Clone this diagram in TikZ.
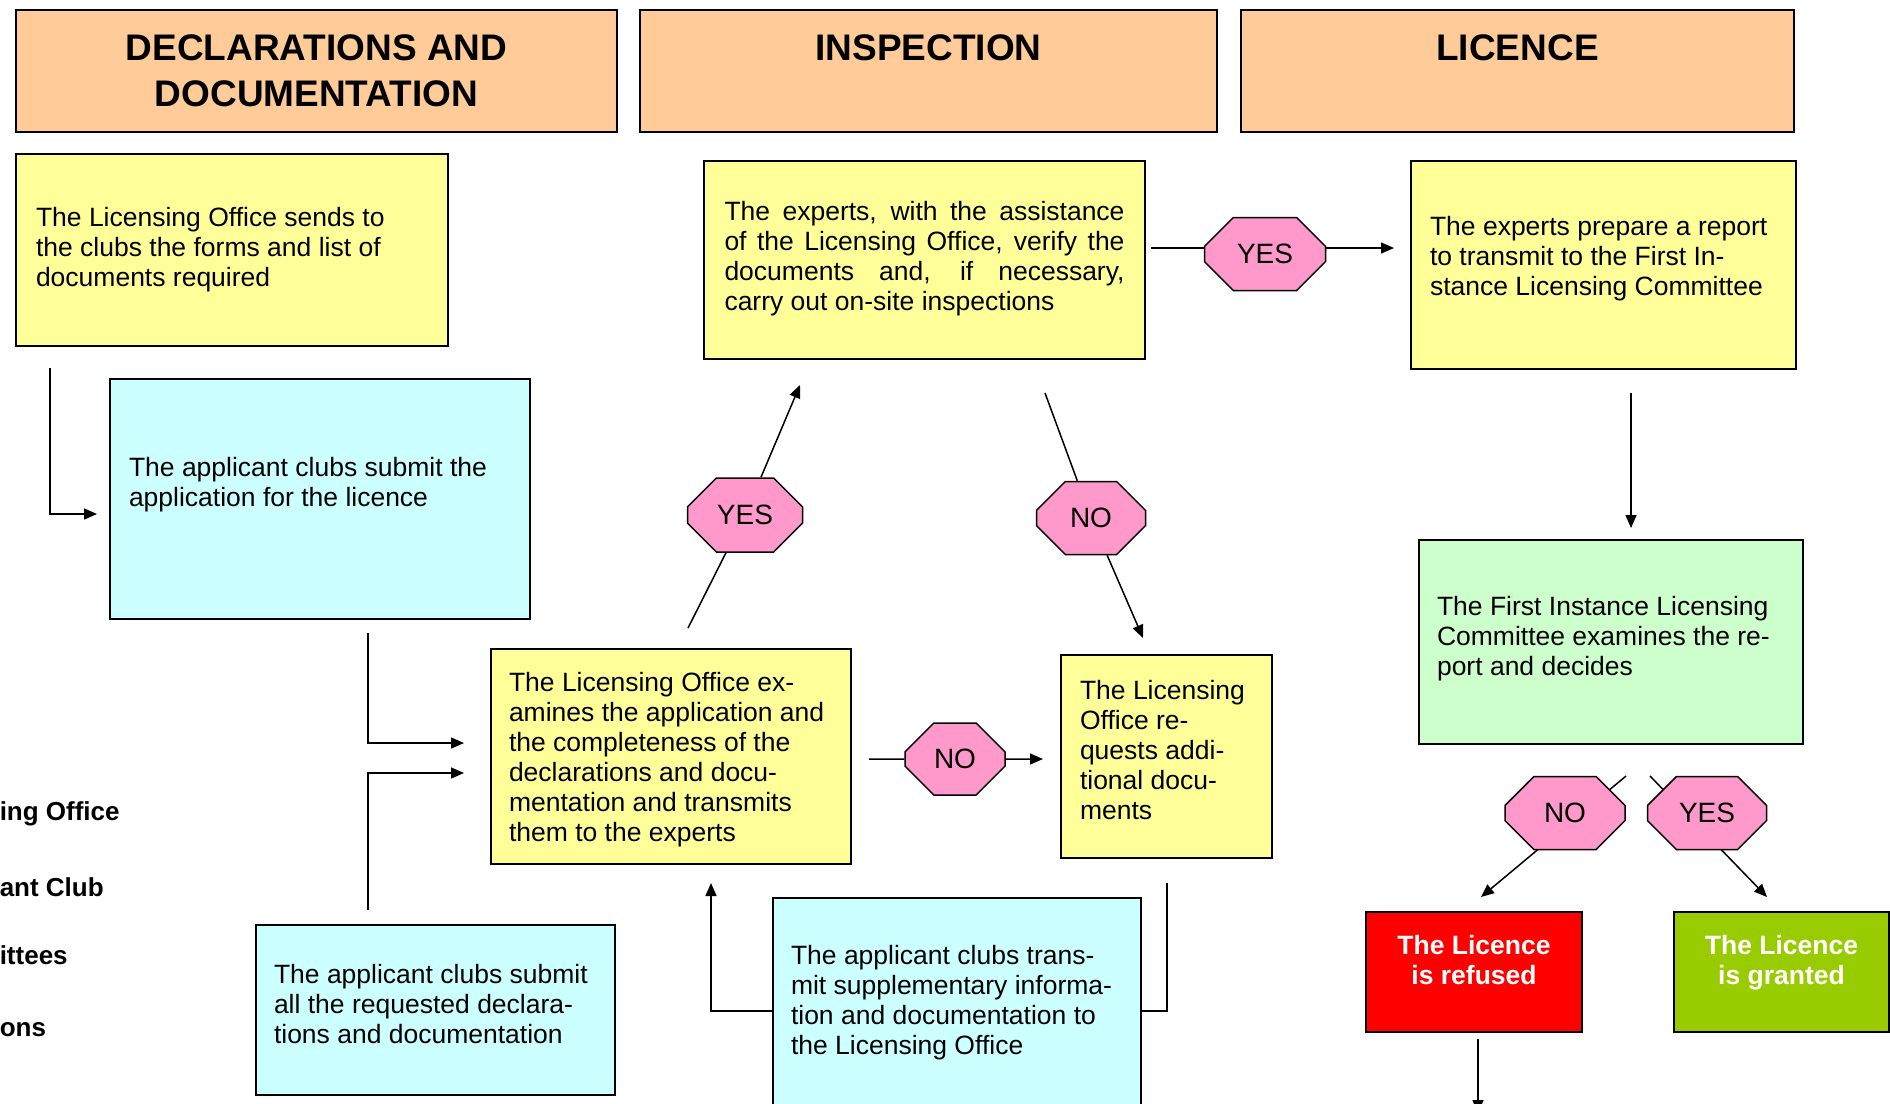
\documentclass[tikz,border=0pt]{standalone}
\usepackage{fontspec}
\setmainfont{Liberation Sans}
\usetikzlibrary{arrows.meta,positioning,shapes.misc}
\definecolor{hdrfill}{HTML}{FFCC99}
\definecolor{docfill}{HTML}{FFFF99}
\definecolor{clubfill}{HTML}{CCFFFF}
\definecolor{cttfill}{HTML}{CCFFCC}
\definecolor{octfill}{HTML}{FF99CC}
\definecolor{nofill}{HTML}{FF0000}
\definecolor{yesfill}{HTML}{99CC00}
\newcommand{\bodyfont}{\fontsize{26.5}{30}\selectfont}
\newcommand{\hdrfont}{\fontsize{37}{46}\selectfont\bfseries}
\newcommand{\octfont}{\fontsize{28}{30}\selectfont}
\newcommand{\tagfont}{\fontsize{26}{30}\selectfont\bfseries}
\newcommand{\wordgap}{\spaceskip=.278em plus .139em minus .093em\relax}

\begin{document}
\begin{tikzpicture}[x=1pt,y=-1pt,>={Triangle[length=13pt,width=11pt]},line width=1.5pt,
  hdr/.style={draw,fill=hdrfill,line width=2pt,anchor=north west,minimum height=122pt,align=center,font=\hdrfont,execute at begin node=\wordgap},
  box/.style={draw,line width=2pt,anchor=north west,inner ysep=0pt,font=\bodyfont,execute at begin node=\wordgap},
  oct/.style={chamfered rectangle,chamfered rectangle xsep=19pt,chamfered rectangle ysep=19pt,draw,fill=octfill,inner sep=0pt,font=\octfont},
  tag/.style={anchor=west,inner sep=0pt,font=\tagfont}]
  \useasboundingbox (0,0) rectangle (1890,1103);
  % column heads
  \node[hdr,minimum width=601pt] (hdecl) at (15,9) {DECLARATIONS AND\\DOCUMENTATION};
  \node[hdr,minimum width=577pt] (hinsp) at (639,9) {INSPECTION\\~};
  \node[hdr,minimum width=553pt] (hlic) at (1240,9) {LICENCE\\~};
  % clipped row labels
  \node[tag] (lbloffice) at (-1,814) {ing Office};
  \node[tag] (lblclub) at (-1,887) {ant Club};
  \node[tag] (lblctt) at (-1,955) {ittees};
  \node[tag] (lbldec) at (-1,1030) {ons};
  % steps
  \node[box,fill=docfill,inner xsep=20pt,text width=392pt,minimum height=192pt] (send) at (15,153)
    {The Licensing Office sends to\\the clubs the forms and list of\\documents required};
  \node[box,fill=clubfill,inner xsep=19pt,text width=382pt,minimum height=240pt] (apply) at (109,378)
    {The applicant clubs submit the\\application for the licence\\[4pt]~};
  \node[box,fill=docfill,inner xsep=18pt,text width=324pt,minimum height=215pt] (exam) at (490,648)
    {The Licensing Office ex-\\amines the application and\\the completeness of the\\declarations and docu-\\mentation and transmits\\them to the experts\\[-31.6pt]~};
  \node[box,fill=clubfill,inner xsep=18pt,text width=323pt,minimum height=170pt] (submit) at (255,924)
    {The applicant clubs submit\\all the requested declara-\\tions and documentation\\[-18pt]~};
  \node[box,fill=clubfill,inner xsep=18pt,text width=332pt,minimum height=216pt] (suppl) at (772,897)
    {The applicant clubs trans-\\mit supplementary informa-\\tion and documentation to\\the Licensing Office\\[-17pt]~};
  \node[box,fill=docfill,inner xsep=20.5pt,text width=400pt,minimum height=198pt] (verify) at (703,160)
    {\makebox[400pt][s]{The experts, with the assistance}\\\makebox[400pt][s]{of the Licensing Office, verify the}\\\makebox[400pt][s]{documents and, if necessary,}\\carry out on-site inspections\\[-22pt]~};
  \node[box,fill=docfill,inner xsep=19pt,text width=173pt,minimum height=203pt] (request) at (1060,654)
    {The Licensing\\Office re-\\quests addi-\\tional docu-\\ments\\[-17pt]~};
  \node[box,fill=docfill,inner xsep=19pt,text width=347pt,minimum height=208pt] (report) at (1410,160)
    {The experts prepare a report\\to transmit to the First In-\\stance Licensing Committee\\[-12pt]~};
  \node[box,fill=cttfill,inner xsep=18pt,text width=348pt,minimum height=204pt] (decide) at (1418,539)
    {The First Instance Licensing\\Committee examines the re-\\port and decides\\[-18pt]~};
  \node[box,fill=nofill,text=white,font=\bodyfont\bfseries,align=center,minimum width=216pt,minimum height=120pt] (refused) at (1365,911)
    {The Licence\\is refused\\[-6pt]~};
  \node[box,fill=yesfill,text=white,font=\bodyfont\bfseries,align=center,minimum width=215pt,minimum height=120pt] (granted) at (1673,911)
    {The Licence\\is granted\\[-6pt]~};
  % free ends
  \coordinate (s0) at (50,368);    \coordinate (s1) at (97,514);
  \coordinate (a0) at (368,633);   \coordinate (a1) at (464,743);
  \coordinate (b0) at (368,910);   \coordinate (b1) at (464,773);
  \coordinate (e0) at (688,628);   \coordinate (e1) at (800,385);
  \coordinate (v0) at (1045,393);  \coordinate (v1) at (1143,638);
  \coordinate (y0) at (1151,248);  \coordinate (y1) at (1394,248);
  \coordinate (n0) at (869,759);   \coordinate (n1) at (1043,759);
  \coordinate (q0) at (1167,883);  \coordinate (q1) at (711,1011);
  \coordinate (u1) at (711,883);
  \coordinate (r0) at (1631,393);  \coordinate (r1) at (1631,528);
  \coordinate (d0) at (1626,776);  \coordinate (d1) at (1481,897);
  \coordinate (g0) at (1650,776);  \coordinate (g1) at (1767,897);
  \coordinate (f0) at (1478,1039); \coordinate (f1) at (1478,1113);
  % the two outcome lines run under their octagons
  \draw[->] (d0) -- (d1);
  \draw[->] (g0) -- (g1);
  % decisions
  \node[oct,minimum width=115pt,minimum height=74pt] (yesexam) at (745,515) {YES};
  \node[oct,minimum width=109pt,minimum height=73pt] (noverify) at (1091,518) {NO};
  \node[oct,minimum width=121pt,minimum height=73pt] (yesverify) at (1265,254) {YES};
  \node[oct,minimum width=100pt,minimum height=72pt] (noexam) at (955,759) {NO};
  \node[oct,minimum width=120pt,minimum height=73pt] (nodecide) at (1565,813) {NO};
  \node[oct,minimum width=119pt,minimum height=73pt] (yesdecide) at (1707,813) {YES};
  % connectors
  \draw[->] (s0) |- (s1);
  \draw[->] (a0) |- (a1);
  \draw[->] (b0) |- (b1);
  \draw (e0) -- (yesexam);
  \draw[->] (yesexam) -- (e1);
  \draw (v0) -- (noverify);
  \draw[->] (noverify) -- (v1);
  \draw (y0) -- (yesverify.west |- y0);
  \draw[->] (yesverify.east |- y1) -- (y1);
  \draw (n0) -- (noexam);
  \draw[->] (noexam) -- (n1);
  \draw (q0) |- (suppl.east |- q1);
  \draw[->] (suppl.west |- q1) -- (q1) -- (u1);
  \draw[->] (r0) -- (r1);
  \draw[->] (f0) -- (f1);
\end{tikzpicture}
\end{document}
